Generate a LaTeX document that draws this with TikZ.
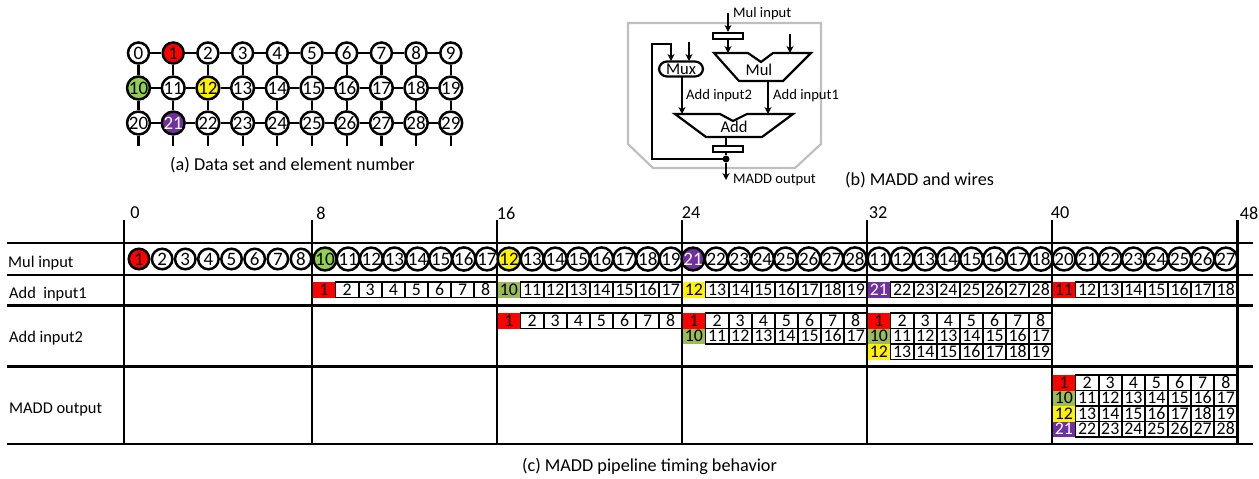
\documentclass[tikz,border=0pt]{standalone}
\usepackage{fontspec}
\setmainfont{Carlito}
\usetikzlibrary{arrows.meta}
\definecolor{cgreen}{HTML}{92D050}
\definecolor{sgreen}{HTML}{9BBB59}
\definecolor{cpurple}{HTML}{7030A0}
\definecolor{cframe}{HTML}{BFBFBF}
\newcommand{\fsz}[1]{\fontsize{#1}{#1}\selectfont}
\tikzset{
  x=1pt,y=-1pt,
  every node/.style={font=\fsz{18.2},inner sep=0pt},
  grid/.style={line width=2.2pt,draw=black},
  wire/.style={line width=2.2pt,draw=black},
  arrowwire/.style={wire,-{Stealth[length=7pt,width=7pt]}},
  box/.style={line width=2.2pt,draw=black,fill=white},
  dotnode/.style={circle,line width=2.5pt,draw=black,fill=white,minimum size=20.5pt,font=\fsz{19}},
  cellnode/.style={rectangle,line width=1.6pt,draw=black,minimum width=23.1pt,text height=10.8pt,text depth=0pt,anchor=center,font=\fsz{17.8}},
  lab/.style={anchor=west,font=\fsz{14.6}},
  rowlab/.style={anchor=west,font=\fsz{16.4}},
  blocklab/.style={font=\fsz{16.5}},
  mark1/.style={fill=red},
  mark10/.style={fill=cgreen},
  mark12/.style={fill=yellow},
  mark21/.style={fill=cpurple,text=white},
  cmark1/.style={fill=red,draw=none},
  cmark10/.style={fill=sgreen,draw=none},
  cmark12/.style={fill=yellow,draw=none},
  cmark21/.style={fill=cpurple,text=white,draw=none},
  cmarkr/.style={fill=red,draw=none},
}
% #1 name, #2 x of first circle, #3 first number
\newcommand{\circrow}[3]{%
  \foreach \i in {0,...,7}{%
    \pgfmathtruncatemacro\nn{#3+\i}%
    \pgfmathsetmacro\xx{#2+23.14*\i}%
    \ifnum\i=0\relax
      \node[dotnode,mark\nn/.try] (#1-\i) at (\xx,259) {\nn};
    \else
      \node[dotnode] (#1-\i) at (\xx,259) {\nn};
    \fi
  }}
% #1 name, #2 x of segment, #3 top y, #4 height, #5 first number, #6 first cell style
\newcommand{\cellrow}[6]{%
  \foreach \i in {1,...,7}{%
    \pgfmathtruncatemacro\nn{#5+\i}%
    \pgfmathsetmacro\xx{#2+11.55+23.1*\i}%
    \pgfmathsetmacro\yy{#3+#4/2}%
    \node[cellnode,minimum height=#4 pt] (#1-\i) at (\xx,\yy) {\nn};
  }
  \pgfmathsetmacro\xx{#2+11.3}%
  \pgfmathsetmacro\yy{#3+#4/2}%
  \node[cellnode,minimum width=22pt,minimum height=#4 pt,#6] (#1-0) at (\xx,\yy) {#5};
}
\begin{document}
\begin{tikzpicture}
\useasboundingbox (0,0) rectangle (1259,479);
% (a) data set
\foreach \r in {0,1,2}{
  \foreach \c in {0,...,9}{
    \pgfmathtruncatemacro\nn{\r*10+\c}
    \pgfmathsetmacro\xx{138.5+34.7*\c}
    \pgfmathsetmacro\yy{53+35*\r}
    \node[dotnode,minimum size=21pt,mark\nn/.try] (g\nn) at (\xx,\yy) {\nn};
  }
}
\foreach \r in {0,1,2}{
  \foreach \c in {1,...,9}{
    \pgfmathtruncatemacro\aa{\r*10+\c-1}
    \pgfmathtruncatemacro\bb{\r*10+\c}
    \draw[grid] (g\aa) -- (g\bb);
  }
}
\foreach \c in {0,...,9}{
  \pgfmathtruncatemacro\aa{10+\c}
  \pgfmathtruncatemacro\bb{20+\c}
  \draw[grid] (g\c) -- (g\aa);
  \draw[grid] (g\aa) -- (g\bb);
  \pgfmathsetmacro\xx{138.5+34.7*\c}
  \coordinate (st\c) at (\xx,146);
  \draw[grid] (g\bb) -- (st\c);
}
\node (capa) at (292.5,165) {(a) Data set and element number};
% (b) MADD
\draw[line width=2.2pt,draw=cframe] (628,23) -- (821,23) -- (821,144) -- (795,168) -- (653,168) -- (628,144) -- cycle;
\node[box,minimum width=30pt,minimum height=6pt] (reg1) at (728,36) {};
\node[box,minimum width=30pt,minimum height=6pt] (reg2) at (728,149) {};
\draw[wire,fill=white] (714,53) -- (748,53) -- (761,62) -- (773,53) -- (811,53) -- (783,81) -- (739,81) -- cycle;
\draw[wire,fill=white] (675,114) -- (720,114) -- (733,121) -- (747,114) -- (793,114) -- (762,137) -- (706,137) -- cycle;
\node[blocklab] (mullab) at (759,70) {Mul};
\node[blocklab] (addlab) at (734,127) {Add};
\node[box,rounded corners=8pt,minimum width=44pt,minimum height=15pt,font=\fsz{16.5}] (mux) at (681,69) {Mux};
\coordinate (mulin) at (728,13);
\coordinate (mulintop) at (728,53);
\coordinate (mulb) at (790,34);
\coordinate (mulbend) at (790,53);
\coordinate (muxb) at (689,42);
\coordinate (muxbend) at (689,61);
\coordinate (fb1) at (652,159);
\coordinate (fb2) at (652,44);
\coordinate (fb3) at (671,44);
\coordinate (fb4) at (671,61);
\coordinate (muxout) at (682,77);
\coordinate (addin2) at (682,114);
\coordinate (mulout) at (768,81);
\coordinate (addin1) at (768,114);
\coordinate (addout) at (726,137);
\coordinate (regt) at (726,146);
\coordinate (regb) at (726,152);
\coordinate (madd) at (726,180);
\node[circle,fill=black,minimum size=7pt] (junc) at (726,159) {};
\draw[arrowwire] (mulin) -- (reg1);
\draw[arrowwire] (reg1) -- (mulintop);
\draw[arrowwire] (mulb) -- (mulbend);
\draw[arrowwire] (muxb) -- (muxbend);
\draw[arrowwire] (junc.center) -- (fb1) -- (fb2) -- (fb3) -- (fb4);
\draw[arrowwire] (muxout) -- (addin2);
\draw[arrowwire] (mulout) -- (addin1);
\draw[wire] (addout) -- (regt);
\draw[wire] (regb) -- (junc);
\draw[arrowwire] (junc) -- (madd);
\node[lab] (lmul) at (733,14) {Mul input};
\node[lab] (ladd2) at (686,96) {Add input2};
\node[lab] (ladd1) at (773,96) {Add input1};
\node[lab] (lmadd) at (733,180) {MADD output};
\node[anchor=west] (capb) at (845,180) {(b) MADD and wires};
% (c) timing
\foreach \nm/\xx/\t/\tx in {v0/124/0/135,v8/312/8/321,v16/497/16/506,v24/682/24/691,v32/867/32/878,v40/1052/40/1060,v48/1237.5/48/1249}{
  \coordinate (\nm t) at (\xx,220);
  \coordinate (\nm b) at (\xx,444);
  \draw[grid] (\nm t) -- (\nm b);
  \node (t\nm) at (\tx,213) {\t};
}
\foreach \nm/\yy in {h0/243,h1/275,h2/305.5,h3/366.5,h4/444}{
  \coordinate (\nm l) at (7,\yy);
  \coordinate (\nm r) at (1253,\yy);
  \draw[grid] (\nm l) -- (\nm r);
}
\node[rowlab] (r1) at (8,263) {Mul input};
\node[rowlab] (r2) at (9,294) {Add\ \ input1};
\node[rowlab] (r3) at (9,338) {Add input2};
\node[rowlab] (r4) at (9,410) {MADD output};
\circrow{ca}{139}{1}
\circrow{cb}{325}{10}
\circrow{cc}{509}{12}
\circrow{cd}{693}{21}
\circrow{ce}{879}{11}
\circrow{cf}{1064}{20}
\cellrow{pa}{312.5}{282}{15.5}{1}{cmark1}
\cellrow{pb}{497.5}{282}{15.5}{10}{cmark10}
\cellrow{pc}{682.5}{282}{15.5}{12}{cmark12}
\cellrow{pd}{867.5}{282}{15.5}{21}{cmark21}
\cellrow{pe}{1052.5}{282}{15.5}{11}{cmarkr}
\cellrow{qa}{497.5}{313}{15.5}{1}{cmark1}
\cellrow{qb}{682.5}{313}{15.5}{1}{cmark1}
\cellrow{qc}{682.5}{328.5}{15.5}{10}{cmark10}
\cellrow{qd}{867.5}{313}{15.5}{1}{cmark1}
\cellrow{qe}{867.5}{328.5}{15.5}{10}{cmark10}
\cellrow{qf}{867.5}{344}{15.5}{12}{cmark12}
\cellrow{ra}{1052.5}{375}{15.5}{1}{cmark1}
\cellrow{rb}{1052.5}{390.5}{15.5}{10}{cmark10}
\cellrow{rc}{1052.5}{406}{15.5}{12}{cmark12}
\cellrow{rd}{1052.5}{421.5}{15.5}{21}{cmark21}
\node (capc) at (649.5,466) {(c) MADD pipeline timing behavior};
\end{tikzpicture}
\end{document}
